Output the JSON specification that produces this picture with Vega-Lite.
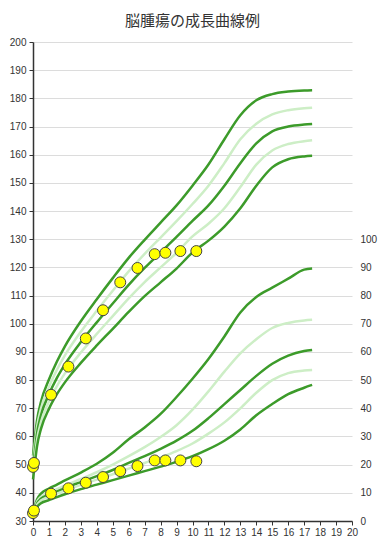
{
  "$schema": "https://vega.github.io/schema/vega-lite/v6.json",
  "width": 319,
  "height": 479,
  "autosize": {"type": "none"},
  "padding": {"left": 33, "top": 42, "right": 31, "bottom": 24},
  "background": "white",
  "title": {"text": "脳腫瘍の成長曲線例", "font": "Noto Sans CJK JP", "fontSize": 15, "fontWeight": "normal", "color": "#333333", "offset": 8},
  "config": {
    "view": {"stroke": null},
    "axis": {"labelFont": "Liberation Sans", "labelFontSize": 10, "labelColor": "#333333", "domainColor": "#333333", "tickColor": "#333333", "title": null}
  },
  "datasets": {
    "height": [
      {"age": 0, "h": 53.2, "curve": "p2"}, {"age": 0, "h": 51.1, "curve": "p1"}, {"age": 0, "h": 49.0, "curve": "m"}, {"age": 0, "h": 46.9, "curve": "n1"}, {"age": 0, "h": 44.8, "curve": "n2"},
      {"age": 0.1, "h": 58.4, "curve": "p2"}, {"age": 0.1, "h": 56.2, "curve": "p1"}, {"age": 0.1, "h": 54.0, "curve": "m"}, {"age": 0.1, "h": 51.8, "curve": "n1"}, {"age": 0.1, "h": 49.6, "curve": "n2"},
      {"age": 0.25, "h": 65.6, "curve": "p2"}, {"age": 0.25, "h": 63.3, "curve": "p1"}, {"age": 0.25, "h": 61.0, "curve": "m"}, {"age": 0.25, "h": 58.7, "curve": "n1"}, {"age": 0.25, "h": 56.4, "curve": "n2"},
      {"age": 0.5, "h": 72.3, "curve": "p2"}, {"age": 0.5, "h": 69.9, "curve": "p1"}, {"age": 0.5, "h": 67.5, "curve": "m"}, {"age": 0.5, "h": 65.1, "curve": "n1"}, {"age": 0.5, "h": 62.7, "curve": "n2"},
      {"age": 1, "h": 80.2, "curve": "p2"}, {"age": 1, "h": 77.6, "curve": "p1"}, {"age": 1, "h": 75.0, "curve": "m"}, {"age": 1, "h": 72.4, "curve": "n1"}, {"age": 1, "h": 69.8, "curve": "n2"},
      {"age": 1.5, "h": 86.6, "curve": "p2"}, {"age": 1.5, "h": 83.7, "curve": "p1"}, {"age": 1.5, "h": 80.8, "curve": "m"}, {"age": 1.5, "h": 77.9, "curve": "n1"}, {"age": 1.5, "h": 75.0, "curve": "n2"},
      {"age": 2, "h": 92.0, "curve": "p2"}, {"age": 2, "h": 88.8, "curve": "p1"}, {"age": 2, "h": 85.6, "curve": "m"}, {"age": 2, "h": 82.4, "curve": "n1"}, {"age": 2, "h": 79.2, "curve": "n2"},
      {"age": 3, "h": 100.9, "curve": "p2"}, {"age": 3, "h": 97.2, "curve": "p1"}, {"age": 3, "h": 93.5, "curve": "m"}, {"age": 3, "h": 89.8, "curve": "n1"}, {"age": 3, "h": 86.1, "curve": "n2"},
      {"age": 4, "h": 108.7, "curve": "p2"}, {"age": 4, "h": 104.6, "curve": "p1"}, {"age": 4, "h": 100.5, "curve": "m"}, {"age": 4, "h": 96.4, "curve": "n1"}, {"age": 4, "h": 92.3, "curve": "n2"},
      {"age": 5, "h": 116.2, "curve": "p2"}, {"age": 5, "h": 111.7, "curve": "p1"}, {"age": 5, "h": 107.2, "curve": "m"}, {"age": 5, "h": 102.7, "curve": "n1"}, {"age": 5, "h": 98.2, "curve": "n2"},
      {"age": 6, "h": 123.4, "curve": "p2"}, {"age": 6, "h": 118.6, "curve": "p1"}, {"age": 6, "h": 113.8, "curve": "m"}, {"age": 6, "h": 109.0, "curve": "n1"}, {"age": 6, "h": 104.2, "curve": "n2"},
      {"age": 7, "h": 129.8, "curve": "p2"}, {"age": 7, "h": 124.8, "curve": "p1"}, {"age": 7, "h": 119.8, "curve": "m"}, {"age": 7, "h": 114.8, "curve": "n1"}, {"age": 7, "h": 109.8, "curve": "n2"},
      {"age": 8, "h": 135.9, "curve": "p2"}, {"age": 8, "h": 130.6, "curve": "p1"}, {"age": 8, "h": 125.3, "curve": "m"}, {"age": 8, "h": 120.0, "curve": "n1"}, {"age": 8, "h": 114.7, "curve": "n2"},
      {"age": 9, "h": 142.0, "curve": "p2"}, {"age": 9, "h": 136.4, "curve": "p1"}, {"age": 9, "h": 130.8, "curve": "m"}, {"age": 9, "h": 125.2, "curve": "n1"}, {"age": 9, "h": 119.6, "curve": "n2"},
      {"age": 10, "h": 149.0, "curve": "p2"}, {"age": 10, "h": 142.5, "curve": "p1"}, {"age": 10, "h": 136.5, "curve": "m"}, {"age": 10, "h": 131.0, "curve": "n1"}, {"age": 10, "h": 125.3, "curve": "n2"},
      {"age": 11, "h": 156.5, "curve": "p2"}, {"age": 11, "h": 149.0, "curve": "p1"}, {"age": 11, "h": 142.0, "curve": "m"}, {"age": 11, "h": 135.5, "curve": "n1"}, {"age": 11, "h": 129.5, "curve": "n2"},
      {"age": 12, "h": 165.5, "curve": "p2"}, {"age": 12, "h": 157.0, "curve": "p1"}, {"age": 12, "h": 149.0, "curve": "m"}, {"age": 12, "h": 141.0, "curve": "n1"}, {"age": 12, "h": 134.5, "curve": "n2"},
      {"age": 13, "h": 174.0, "curve": "p2"}, {"age": 13, "h": 165.5, "curve": "p1"}, {"age": 13, "h": 157.0, "curve": "m"}, {"age": 13, "h": 148.5, "curve": "n1"}, {"age": 13, "h": 141.0, "curve": "n2"},
      {"age": 14, "h": 179.3, "curve": "p2"}, {"age": 14, "h": 171.0, "curve": "p1"}, {"age": 14, "h": 164.0, "curve": "m"}, {"age": 14, "h": 156.5, "curve": "n1"}, {"age": 14, "h": 149.0, "curve": "n2"},
      {"age": 15, "h": 181.5, "curve": "p2"}, {"age": 15, "h": 174.3, "curve": "p1"}, {"age": 15, "h": 168.3, "curve": "m"}, {"age": 15, "h": 161.5, "curve": "n1"}, {"age": 15, "h": 155.5, "curve": "n2"},
      {"age": 16, "h": 182.4, "curve": "p2"}, {"age": 16, "h": 175.8, "curve": "p1"}, {"age": 16, "h": 170.0, "curve": "m"}, {"age": 16, "h": 163.8, "curve": "n1"}, {"age": 16, "h": 158.4, "curve": "n2"},
      {"age": 17, "h": 182.8, "curve": "p2"}, {"age": 17, "h": 176.5, "curve": "p1"}, {"age": 17, "h": 170.7, "curve": "m"}, {"age": 17, "h": 164.8, "curve": "n1"}, {"age": 17, "h": 159.4, "curve": "n2"},
      {"age": 17.5, "h": 182.9, "curve": "p2"}, {"age": 17.5, "h": 176.7, "curve": "p1"}, {"age": 17.5, "h": 170.9, "curve": "m"}, {"age": 17.5, "h": 165.1, "curve": "n1"}, {"age": 17.5, "h": 159.6, "curve": "n2"}
    ],
    "weight": [
      {"age": 0, "w": 4.0, "curve": "p2"}, {"age": 0, "w": 3.5, "curve": "p1"}, {"age": 0, "w": 3.1, "curve": "m"}, {"age": 0, "w": 2.8, "curve": "n1"}, {"age": 0, "w": 2.3, "curve": "n2"},
      {"age": 0.1, "w": 5.2, "curve": "p2"}, {"age": 0.1, "w": 4.6, "curve": "p1"}, {"age": 0.1, "w": 4.1, "curve": "m"}, {"age": 0.1, "w": 3.7, "curve": "n1"}, {"age": 0.1, "w": 3.1, "curve": "n2"},
      {"age": 0.25, "w": 7.6, "curve": "p2"}, {"age": 0.25, "w": 6.8, "curve": "p1"}, {"age": 0.25, "w": 6.2, "curve": "m"}, {"age": 0.25, "w": 5.7, "curve": "n1"}, {"age": 0.25, "w": 4.9, "curve": "n2"},
      {"age": 0.5, "w": 9.7, "curve": "p2"}, {"age": 0.5, "w": 8.6, "curve": "p1"}, {"age": 0.5, "w": 7.9, "curve": "m"}, {"age": 0.5, "w": 7.3, "curve": "n1"}, {"age": 0.5, "w": 6.3, "curve": "n2"},
      {"age": 1, "w": 11.5, "curve": "p2"}, {"age": 1, "w": 10.1, "curve": "p1"}, {"age": 1, "w": 9.3, "curve": "m"}, {"age": 1, "w": 8.6, "curve": "n1"}, {"age": 1, "w": 7.4, "curve": "n2"},
      {"age": 1.5, "w": 12.9, "curve": "p2"}, {"age": 1.5, "w": 11.3, "curve": "p1"}, {"age": 1.5, "w": 10.5, "curve": "m"}, {"age": 1.5, "w": 9.7, "curve": "n1"}, {"age": 1.5, "w": 8.5, "curve": "n2"},
      {"age": 2, "w": 14.4, "curve": "p2"}, {"age": 2, "w": 12.6, "curve": "p1"}, {"age": 2, "w": 11.7, "curve": "m"}, {"age": 2, "w": 10.8, "curve": "n1"}, {"age": 2, "w": 9.5, "curve": "n2"},
      {"age": 3, "w": 17.2, "curve": "p2"}, {"age": 3, "w": 14.9, "curve": "p1"}, {"age": 3, "w": 13.8, "curve": "m"}, {"age": 3, "w": 12.8, "curve": "n1"}, {"age": 3, "w": 11.3, "curve": "n2"},
      {"age": 4, "w": 20.3, "curve": "p2"}, {"age": 4, "w": 17.3, "curve": "p1"}, {"age": 4, "w": 15.9, "curve": "m"}, {"age": 4, "w": 14.7, "curve": "n1"}, {"age": 4, "w": 12.9, "curve": "n2"},
      {"age": 5, "w": 24.2, "curve": "p2"}, {"age": 5, "w": 20.0, "curve": "p1"}, {"age": 5, "w": 18.1, "curve": "m"}, {"age": 5, "w": 16.6, "curve": "n1"}, {"age": 5, "w": 14.5, "curve": "n2"},
      {"age": 6, "w": 29.0, "curve": "p2"}, {"age": 6, "w": 23.0, "curve": "p1"}, {"age": 6, "w": 20.6, "curve": "m"}, {"age": 6, "w": 18.6, "curve": "n1"}, {"age": 6, "w": 16.1, "curve": "n2"},
      {"age": 7, "w": 33.2, "curve": "p2"}, {"age": 7, "w": 26.2, "curve": "p1"}, {"age": 7, "w": 23.0, "curve": "m"}, {"age": 7, "w": 20.6, "curve": "n1"}, {"age": 7, "w": 17.7, "curve": "n2"},
      {"age": 8, "w": 38.0, "curve": "p2"}, {"age": 8, "w": 29.8, "curve": "p1"}, {"age": 8, "w": 25.6, "curve": "m"}, {"age": 8, "w": 22.6, "curve": "n1"}, {"age": 8, "w": 19.3, "curve": "n2"},
      {"age": 9, "w": 44.0, "curve": "p2"}, {"age": 9, "w": 34.0, "curve": "p1"}, {"age": 9, "w": 28.5, "curve": "m"}, {"age": 9, "w": 24.8, "curve": "n1"}, {"age": 9, "w": 21.0, "curve": "n2"},
      {"age": 10, "w": 50.5, "curve": "p2"}, {"age": 10, "w": 39.5, "curve": "p1"}, {"age": 10, "w": 32.0, "curve": "m"}, {"age": 10, "w": 27.5, "curve": "n1"}, {"age": 10, "w": 23.0, "curve": "n2"},
      {"age": 11, "w": 57.5, "curve": "p2"}, {"age": 11, "w": 46.0, "curve": "p1"}, {"age": 11, "w": 36.5, "curve": "m"}, {"age": 11, "w": 31.0, "curve": "n1"}, {"age": 11, "w": 25.5, "curve": "n2"},
      {"age": 12, "w": 65.5, "curve": "p2"}, {"age": 12, "w": 53.0, "curve": "p1"}, {"age": 12, "w": 41.5, "curve": "m"}, {"age": 12, "w": 35.0, "curve": "n1"}, {"age": 12, "w": 28.5, "curve": "n2"},
      {"age": 13, "w": 74.0, "curve": "p2"}, {"age": 13, "w": 59.5, "curve": "p1"}, {"age": 13, "w": 46.5, "curve": "m"}, {"age": 13, "w": 40.0, "curve": "n1"}, {"age": 13, "w": 32.5, "curve": "n2"},
      {"age": 14, "w": 79.5, "curve": "p2"}, {"age": 14, "w": 64.5, "curve": "p1"}, {"age": 14, "w": 51.5, "curve": "m"}, {"age": 14, "w": 45.5, "curve": "n1"}, {"age": 14, "w": 37.5, "curve": "n2"},
      {"age": 15, "w": 82.8, "curve": "p2"}, {"age": 15, "w": 68.5, "curve": "p1"}, {"age": 15, "w": 55.8, "curve": "m"}, {"age": 15, "w": 50.0, "curve": "n1"}, {"age": 15, "w": 41.5, "curve": "n2"},
      {"age": 16, "w": 86.0, "curve": "p2"}, {"age": 16, "w": 70.3, "curve": "p1"}, {"age": 16, "w": 58.7, "curve": "m"}, {"age": 16, "w": 52.5, "curve": "n1"}, {"age": 16, "w": 45.0, "curve": "n2"},
      {"age": 17, "w": 89.2, "curve": "p2"}, {"age": 17, "w": 71.2, "curve": "p1"}, {"age": 17, "w": 60.3, "curve": "m"}, {"age": 17, "w": 53.4, "curve": "n1"}, {"age": 17, "w": 47.3, "curve": "n2"},
      {"age": 17.5, "w": 89.6, "curve": "p2"}, {"age": 17.5, "w": 71.4, "curve": "p1"}, {"age": 17.5, "w": 60.7, "curve": "m"}, {"age": 17.5, "w": 53.6, "curve": "n1"}, {"age": 17.5, "w": 48.3, "curve": "n2"}
    ],
    "hpts": [
      {"age": 0, "h": 49.2}, {"age": 0.06, "h": 50.6}, {"age": 1.13, "h": 74.8}, {"age": 2.22, "h": 84.8}, {"age": 3.31, "h": 94.8},
      {"age": 4.39, "h": 104.8}, {"age": 5.47, "h": 114.7}, {"age": 6.55, "h": 119.8}, {"age": 7.63, "h": 124.7}, {"age": 8.3, "h": 125.2},
      {"age": 9.24, "h": 125.8}, {"age": 10.24, "h": 125.8}
    ],
    "wpts": [
      {"age": 0, "w": 2.8}, {"age": 0.06, "w": 3.7}, {"age": 1.13, "w": 9.7}, {"age": 2.22, "w": 11.6}, {"age": 3.31, "w": 13.6},
      {"age": 4.39, "w": 15.6}, {"age": 5.47, "w": 17.7}, {"age": 6.55, "w": 19.5}, {"age": 7.63, "w": 21.5}, {"age": 8.3, "w": 21.5},
      {"age": 9.24, "w": 21.5}, {"age": 10.24, "w": 21.2}
    ]
  },
  "encoding": {
    "x": {
      "field": "age", "type": "quantitative",
      "scale": {"domain": [0, 20], "nice": false, "zero": false},
      "axis": {"values": [0,1,2,3,4,5,6,7,8,9,10,11,12,13,14,15,16,17,18,19,20], "labelAngle": 0, "grid": false, "tickSize": 4, "domainWidth": 1.5, "labelPadding": 2, "labelFlush": false, "labelOverlap": false}
    }
  },
  "layer": [
    {
      "encoding": {
        "y": {
          "field": "h", "type": "quantitative",
          "scale": {"domain": [30, 200], "nice": false, "zero": false},
          "axis": {"orient": "left", "values": [30,40,50,60,70,80,90,100,110,120,130,140,150,160,170,180,190,200], "grid": true, "gridColor": "#dcdcdc", "gridWidth": 1, "tickSize": 4, "domainWidth": 1.5, "labelPadding": 3}
        }
      },
      "layer": [
        {
          "data": {"name": "height"},
          "mark": {"type": "line", "interpolate": "monotone", "strokeWidth": 2.5},
          "encoding": {
            "color": {"field": "curve", "type": "nominal", "scale": {"domain": ["p2", "p1", "m", "n1", "n2"], "range": ["#3c9b2a", "#cdeec6", "#3c9b2a", "#cdeec6", "#3c9b2a"]}, "legend": null},
            "order": {"field": "age", "type": "quantitative"}
          }
        },
        {
          "data": {"name": "hpts"},
          "mark": {"type": "point", "shape": "circle", "filled": true, "size": 120, "fill": "#ffff00", "stroke": "#444444", "strokeWidth": 1, "opacity": 1}
        }
      ]
    },
    {
      "encoding": {
        "y": {
          "field": "w", "type": "quantitative",
          "scale": {"domain": [0, 170], "nice": false, "zero": false},
          "axis": {"orient": "right", "values": [0,10,20,30,40,50,60,70,80,90,100], "grid": false, "domain": false, "ticks": false, "labelPadding": 8}
        }
      },
      "layer": [
        {
          "data": {"name": "weight"},
          "mark": {"type": "line", "interpolate": "monotone", "strokeWidth": 2.5},
          "encoding": {
            "color": {"field": "curve", "type": "nominal", "scale": {"domain": ["p2", "p1", "m", "n1", "n2"], "range": ["#3c9b2a", "#cdeec6", "#3c9b2a", "#cdeec6", "#3c9b2a"]}, "legend": null},
            "order": {"field": "age", "type": "quantitative"}
          }
        },
        {
          "data": {"name": "wpts"},
          "mark": {"type": "point", "shape": "circle", "filled": true, "size": 120, "fill": "#ffff00", "stroke": "#444444", "strokeWidth": 1, "opacity": 1}
        }
      ]
    }
  ],
  "resolve": {"scale": {"y": "independent"}}
}
